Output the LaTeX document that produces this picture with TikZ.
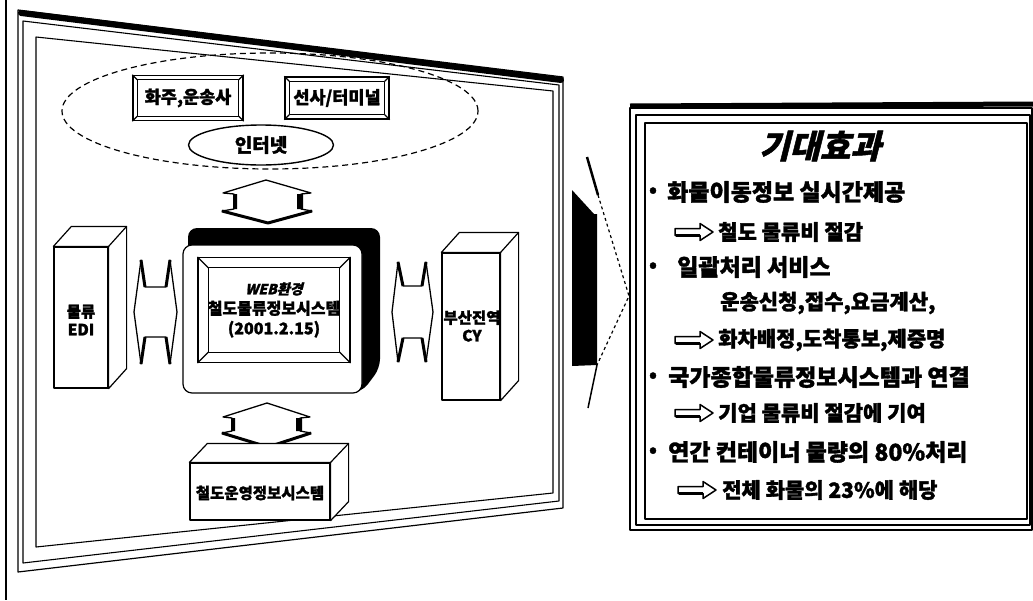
\documentclass[tikz,border=0pt]{standalone}
\usepackage{fontspec}
\setmainfont{Noto Sans CJK KR}[BoldFeatures={FakeBold=1.5}]
\newfontfamily\slantkr{Noto Sans CJK KR}[FakeSlant=0.25, BoldFeatures={FakeBold=1.5}]
\usetikzlibrary{calc,shapes.geometric}
\tikzset{
  lbl/.style={inner sep=0pt, align=center, font=\bfseries\fontsize{15.5}{18}\selectfont},
  front/.style={draw, line width=1.2pt, fill=white, inner sep=0pt},
  tag/.style={draw, line width=1.3pt, fill=white, inner sep=0pt, font=\bfseries\fontsize{17.5}{18}\selectfont},
  bigrow/.style={anchor=west, inner sep=0pt, font=\bfseries\fontsize{23}{26}\selectfont},
  subrow/.style={anchor=west, inner sep=0pt, font=\bfseries\fontsize{21}{24}\selectfont},
  bul/.style={inner sep=0pt, font=\bfseries\fontsize{20}{22}\selectfont},
  hollow/.pic={
    \draw[line width=1.5pt, fill=white] (0,-3.5) -- (25,-3.5) -- (25,-8.5) -- (38,0)
      -- (25,8.5) -- (25,3.5) -- (0,3.5) -- cycle;
    \draw[line width=2.5pt] (1,3.5) -- (25,3.5);
  }
}
% inner frame of a bevelled tag
\newcommand{\bevel}[2]{%
  \draw[line width=1.1pt] ([shift={(#2,#2)}]#1.north west) rectangle ([shift={(-#2,-#2)}]#1.south east);
  \draw[line width=1.1pt] (#1.north west) -- ++(#2,#2) (#1.north east) -- ++(-#2,#2)
    (#1.south west) -- ++(#2,-#2) (#1.south east) -- ++(-#2,-#2);}
% top and side of a box
\newcommand{\boxtop}[3]{%
  \draw[line width=1.2pt, fill=white] (#1.north west) -- ++(#2,#3) -- ($(#1.north east)+(#2,#3)$)
    -- ($(#1.south east)+(#2,#3)$) -- (#1.south east) -- (#1.north east) -- cycle;
  \draw[line width=1.2pt] (#1.north east) -- ++(#2,#3);}

\begin{document}
\begin{tikzpicture}[x=1pt, y=-1pt, line join=round]
\useasboundingbox (0,0) rectangle (1033,600);

% left panel
\draw[line width=2.5pt] (6,0) -- (6,600);
\draw[line width=1.2pt] (18,10) -- (563,77) -- (563,508) -- (18,572) -- cycle;
\draw[line width=6pt, line cap=round] (21,13) -- (561,80);
\draw[line width=1.1pt] (23,21) -- (559,85) -- (559,501) -- (23,563) -- cycle;
\draw[line width=1.1pt] (36,37) -- (553,91) -- (553,493) -- (36,547) -- cycle;

\node[draw, dashed, ellipse, line width=1.2pt, dash pattern=on 6pt off 4pt,
      minimum width=416, minimum height=116] (cloud) at (270,111) {};
\node[tag, minimum width=110, minimum height=45] (shipper) at (188,98) {화주,운송사};
\bevel{shipper}{5}
\node[tag, minimum width=104, minimum height=42] (terminal) at (337,98) {선사/터미널};
\bevel{terminal}{5}
\node[draw, ellipse, line width=1.4pt, fill=white, inner sep=0pt, minimum width=145, minimum height=40,
      font=\bfseries\fontsize{19}{20}\selectfont] (inet) at (261,145) {인터넷};

% fat arrows
\draw[line width=1.3pt, fill=white] (266,180) -- (311,193) -- (301,194) -- (301,209) -- (312,211)
  -- (268,223) -- (222,211) -- (234,209) -- (234,194) -- (223,193) -- cycle;
\fill (297,194) rectangle (303,209) (233,194) rectangle (237,209);
\draw[line width=3pt] (312,211) -- (268,223) -- (222,211);

\draw[line width=1.3pt, fill=white] (267,403) -- (310,417) -- (300,418) -- (300,431) -- (311,433)
  -- (268,447) -- (222,433) -- (232,431) -- (232,418) -- (223,417) -- cycle;
\fill (296,418) rectangle (302,431) (231,418) rectangle (235,431);
\draw[line width=3pt] (311,433) -- (268,447) -- (222,433);

\draw[line width=1.3pt, fill=white] (134,312) -- (141,260) -- (145,287) -- (166,287) -- (170,260)
  -- (177,312) -- (170,364) -- (166,337) -- (145,337) -- (141,364) -- cycle;
\draw[line width=3pt] (141,260) -- (145,287) (170,260) -- (166,287)
  (141,364) -- (145,337) (170,364) -- (166,337);

\draw[line width=1.3pt, fill=white] (392,312) -- (398,262) -- (403,286) -- (422,286) -- (426,262)
  -- (433,312) -- (426,362) -- (422,338) -- (403,338) -- (398,362) -- cycle;
\draw[line width=3pt] (398,262) -- (403,286) (426,262) -- (422,286)
  (398,362) -- (403,338) (426,362) -- (422,338);

% monitor
\fill[rounded corners=9] (188,228) -- (380,228) -- (380,368) -- (362,392) -- (188,392) -- cycle;
\node[draw, line width=1.2pt, fill=white, rounded corners=9, minimum width=179, minimum height=148]
  (mon) at (272.5,319) {};
\node[draw, line width=1.2pt, minimum width=152, minimum height=105, inner sep=0pt, align=center,
      font=\bfseries\fontsize{16}{20}\selectfont] (scr) at (274,310)
  {{\slantkr\bfseries\fontsize{14}{16}\selectfont WEB환경}\\철도물류정보시스템\\(2001.2.15)};
\bevel{scr}{11}

% side boxes
\node[front, minimum width=54, minimum height=141] (edi) at (81,317.5) {};
\boxtop{edi}{18}{-20}
\node[lbl] (edit) at (81,320) {물류\\EDI};
\node[front, minimum width=58, minimum height=147] (cy) at (471,326.5) {};
\boxtop{cy}{18}{-20}
\node[lbl] (cyt) at (472,326) {부산진역\\CY};
\node[front, minimum width=140, minimum height=57] (ops) at (260,491.5) {};
\boxtop{ops}{18}{-19}
\node[lbl] (opst) at (260,493) {철도운영정보시스템};

% projection
\fill (572,190) -- (594,214) -- (597,214) -- (597,365) -- (572,366) -- cycle;
\draw[line width=2.5pt] (587,157) -- (598,195);
\draw[line width=1.2pt, dashed] (598,195) -- (629,296) -- (597,365);
\draw[line width=1.5pt] (597,365) -- (588,408);

% right panel
\draw[line width=1.2pt] (630,108) rectangle (1032,530);
\draw[line width=5pt] (630,106) -- (1033,104);
\draw[line width=1.1pt] (636,115) rectangle (1030,525);
\draw[line width=1.1pt] (645,123) rectangle (1027,519);

\node[inner sep=0pt, font=\slantkr\bfseries\fontsize{33}{36}\selectfont] (effect) at (820,146) {기대효과};
\node[bul] (b1) at (653,192) {•};
\node[bigrow] (r1) at (667,192) {화물이동정보 실시간제공};
\pic at (675,232) {hollow};
\node[subrow] (r2) at (718,232) {철도 물류비 절감};
\node[bul] (b2) at (653,267) {•};
\node[bigrow] (r3) at (677,267) {일괄처리 서비스};
\node[subrow] (r4) at (720,303) {운송신청,접수,요금계산,};
\pic at (675,340) {hollow};
\node[subrow] (r5) at (718,340) {화차배정,도착통보,제증명};
\node[bul] (b3) at (653,377) {•};
\node[bigrow] (r6) at (668,377) {국가종합물류정보시스템과 연결};
\pic at (675,413) {hollow};
\node[subrow] (r7) at (718,413) {기업 물류비 절감에 기여};
\node[bul] (b4) at (653,452) {•};
\node[bigrow] (r8) at (668,452) {연간 컨테이너 물량의 80\%처리};
\pic at (678,490) {hollow};
\node[subrow] (r9) at (722,490) {전체 화물의 23\%에 해당};
\end{tikzpicture}
\end{document}
